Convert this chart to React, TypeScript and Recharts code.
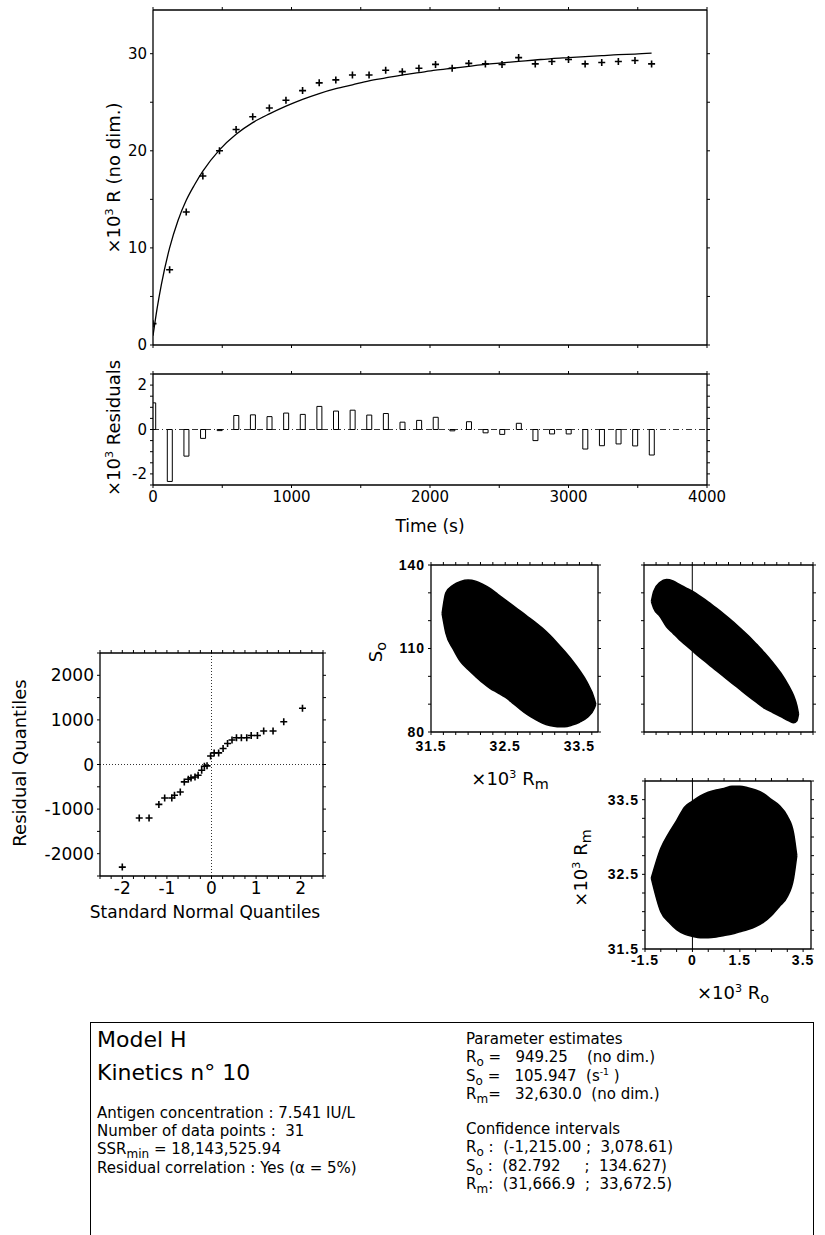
import React from "react";
import {
  Area,
  Bar,
  ComposedChart,
  Line,
  ReferenceLine,
  Scatter,
  XAxis,
  YAxis,
} from "recharts";

const FONT = "'DejaVu Sans', sans-serif";
const BOLD_FONT = "'Liberation Sans', Arial, sans-serif";
const INK = "#000";
const PAD = 8;

// kinetics: time (s), R in 10^3 units
const times = [
  0, 120, 240, 360, 480, 600, 720, 840, 960, 1080, 1200, 1320, 1440, 1560,
  1680, 1800, 1920, 2040, 2160, 2280, 2400, 2520, 2640, 2760, 2880, 3000,
  3120, 3240, 3360, 3480, 3600,
];
const observedR = [
  2.2, 7.75, 13.7, 17.4, 20.0, 22.2, 23.5, 24.4, 25.2, 26.2, 27.0, 27.3, 27.8,
  27.8, 28.3, 28.15, 28.5, 28.9, 28.5, 29.0, 28.95, 28.9, 29.6, 28.95, 29.2,
  29.4, 28.95, 29.1, 29.2, 29.3, 28.95,
];
const residuals = [
  1.2, -2.34, -1.2, -0.4, -0.05, 0.63, 0.66, 0.58, 0.74, 0.68, 1.04, 0.83,
  0.87, 0.65, 0.72, 0.33, 0.41, 0.55, -0.06, 0.35, -0.15, -0.22, 0.28, -0.5,
  -0.2, -0.2, -0.88, -0.73, -0.65, -0.74, -1.15,
];
const fitTimes = [
  0, 30, 60, 120, 180, 240, 300, 360, 480, 600, 720, 840, 960, 1080, 1200,
  1320, 1440, 1560, 1680, 1800, 1920, 2040, 2160, 2280, 2400, 2520, 2640, 2760,
  2880, 3000, 3120, 3240, 3360, 3480, 3600,
];
const fitR = [
  0.95, 3.8, 6.2, 10.0, 12.8, 14.9, 16.5, 17.9, 20.1, 21.7, 22.9, 23.8, 24.6,
  25.3, 25.9, 26.4, 26.8, 27.2, 27.5, 27.8, 28.05, 28.3, 28.5, 28.7, 28.9,
  29.05, 29.2, 29.35, 29.5, 29.6, 29.7, 29.8, 29.9, 29.95, 30.05,
];

// normal probability plot
const qqNormal = [
  -2.0, -1.62, -1.4, -1.18, -1.05, -0.89, -0.83, -0.7, -0.61, -0.52, -0.46,
  -0.37, -0.3, -0.22, -0.16, -0.1, -0.02, 0.06, 0.16, 0.26, 0.36, 0.46, 0.56,
  0.67, 0.79, 0.89, 1.03, 1.17, 1.38, 1.62, 2.04,
];
const qqResidual = [
  -2300, -1200, -1200, -895, -750, -750, -690, -615, -390, -330, -300, -280,
  -240, -130, -40, -30, 190, 260, 260, 360, 470, 550, 600, 600, 600, 650, 650,
  750, 750, 960, 1260,
];

// confidence clouds (outline: x with lower / upper edge)
const soRmX = [
  31.65, 31.7, 31.8, 31.9, 32.0, 32.1, 32.2, 32.3, 32.4, 32.5, 32.6, 32.7,
  32.8, 32.9, 33.0, 33.1, 33.2, 33.3, 33.4, 33.5, 33.6, 33.7, 33.72,
];
const soRmHigh = [
  122.5, 130, 132.8, 134.1, 134.6, 134.2, 133.0, 131.5, 129.5, 127.5, 125.5,
  123.5, 121.5, 119.5, 117.3, 114.8, 112, 109, 105.8, 102.2, 98, 92, 90,
];
const soRmLow = [
  122.5, 115.5, 109.8, 105.2, 102.5, 100, 97.6, 95.6, 94.1, 92.5, 90.4, 88.2,
  86.2, 84.6, 83.2, 82.3, 81.9, 81.9, 82.5, 83.5, 85.1, 88.5, 90,
];

const soRoX = [
  -1.27, -1.2, -1.0, -0.8, -0.6, -0.4, -0.2, 0, 0.25, 0.5, 0.75, 1.0, 1.25,
  1.5, 1.75, 2.0, 2.25, 2.5, 2.75, 3.0, 3.15, 3.25, 3.3,
];
const soRoHigh = [
  126.9, 130.5, 133.8, 134.8, 134.3, 133.0, 131.8, 130.6, 128.7, 126.7, 124.5,
  122.2, 119.8, 117.2, 114.5, 111.5, 108.4, 105, 101.2, 96.5, 93, 89.5, 86.5,
];
const soRoLow = [
  126.9, 124.5, 121.5, 117.8, 115.5, 113.2, 111.2, 109.2, 106.7, 104.4, 102,
  99.7, 97.4, 95.1, 92.8, 90.6, 88.5, 87, 85.5, 84, 83.3, 84, 86.5,
];

const rmRoX = [
  -1.3, -1.0, -0.75, -0.5, -0.25, 0, 0.25, 0.5, 0.75, 1.0, 1.25, 1.5, 1.75,
  2.0, 2.25, 2.5, 2.75, 3.0, 3.2, 3.3,
];
const rmRoHigh = [
  32.45, 32.85, 33.05, 33.22, 33.4, 33.48, 33.55, 33.6, 33.63, 33.65, 33.68,
  33.68, 33.66, 33.63, 33.58, 33.5, 33.42, 33.28, 33.05, 32.75,
];
const rmRoLow = [
  32.45, 32.0, 31.86, 31.76, 31.7, 31.67, 31.65, 31.65, 31.66, 31.68, 31.7,
  31.73, 31.76, 31.8, 31.86, 31.95, 32.07, 32.2, 32.45, 32.75,
];

// axis ticks
const timeTicks = [0, 500, 1000, 1500, 2000, 2500, 3000, 3500, 4000];
const rTicks = [0, 5, 10, 15, 20, 25, 30];
const resTicks = [-2.5, -2, -1.5, -1, -0.5, 0, 0.5, 1, 1.5, 2, 2.5];
const qqXTicks = [
  -2.5, -2.25, -2, -1.75, -1.5, -1.25, -1, -0.75, -0.5, -0.25, 0, 0.25, 0.5,
  0.75, 1, 1.25, 1.5, 1.75, 2, 2.25, 2.5,
];
const qqYTicks = [-2500, -2000, -1500, -1000, -500, 0, 500, 1000, 1500, 2000, 2500];
const soTicks = [80, 90, 100, 110, 120, 130, 140];
const rmTicks = Array.from({ length: 14 }, (_, k) => 31.5 + k / 6);
const rmTicksV = [31.5, 31.75, 32, 32.25, 32.5, 32.75, 33, 33.25, 33.5, 33.75];
const roTicksB = Array.from({ length: 15 }, (_, k) => -1.5 + k * 0.375);
const roTicksC = [-1.5, -1, -0.5, 0, 0.5, 1, 1.5, 2, 2.5, 3, 3.5];

const onlyLabels = (labels: number[]) => (v: number) =>
  labels.some((l) => Math.abs(l - v) < 1e-6) ? String(v) : "";
const fixedLabels = (labels: number[]) => (v: number) =>
  labels.some((l) => Math.abs(l - v) < 1e-6) ? v.toFixed(1) : "";
const blank = () => "";

type Box = { l: number; t: number; r: number; b: number };

// axes of size 0 are not drawn, so every axis gets at least 1px;
// mirrored top/right axes are 1px and the margins compensate
function place(box: Box, lw: number, bh: number, extraRight = 0) {
  const width = box.r - box.l + lw + 2 * PAD + extraRight;
  const height = box.b - box.t + bh + 2 * PAD;
  return {
    width,
    height,
    margin: {
      top: PAD - 1,
      right: PAD - 1 + extraRight,
      bottom: PAD,
      left: PAD,
    },
    style: {
      position: "absolute" as const,
      left: box.l - lw - PAD,
      top: box.t - PAD,
      width,
      height,
    },
  };
}

const plainTick = { fill: INK, fontSize: 15, fontFamily: FONT };
const boldTick = {
  fill: INK,
  fontSize: 14,
  fontFamily: BOLD_FONT,
  fontWeight: 700,
  letterSpacing: 1,
};

function frameAxes(o: {
  xDomain: [number, number];
  yDomain: [number, number];
  xTicks: number[];
  yTicks: number[];
  xFmt: (v: number) => string;
  yFmt: (v: number) => string;
  lw: number;
  bh: number;
  tick: any;
  xMargin?: number;
}) {
  const line = { stroke: INK, strokeWidth: 1.3 };
  const tl = { stroke: INK, strokeWidth: 1 };
  // invisible series so the mirrored top / right axes get a scale
  const corners = [
    { x: o.xDomain[0], y: o.yDomain[0] },
    { x: o.xDomain[1], y: o.yDomain[1] },
  ];
  return [
    <XAxis
      key="xb"
      xAxisId="b"
      type="number"
      dataKey="x"
      domain={o.xDomain}
      ticks={o.xTicks}
      interval={0}
      allowDataOverflow
      height={o.bh}
      axisLine={line}
      tickLine={tl}
      tickSize={3}
      tickMargin={o.xMargin ?? 3}
      tickFormatter={o.xFmt}
      tick={o.tick}
    />,
    <XAxis
      key="xt"
      xAxisId="t"
      orientation="top"
      type="number"
      dataKey="x"
      domain={o.xDomain}
      ticks={o.xTicks}
      interval={0}
      allowDataOverflow
      height={1}
      axisLine={line}
      tickLine={tl}
      tickSize={3}
      tickFormatter={blank}
    />,
    <YAxis
      key="yl"
      yAxisId="l"
      type="number"
      dataKey="y"
      domain={o.yDomain}
      ticks={o.yTicks}
      interval={0}
      allowDataOverflow
      width={o.lw}
      axisLine={line}
      tickLine={tl}
      tickSize={3}
      tickMargin={3}
      tickFormatter={o.yFmt}
      tick={o.tick}
    />,
    <YAxis
      key="yr"
      yAxisId="r"
      orientation="right"
      type="number"
      dataKey="y"
      domain={o.yDomain}
      ticks={o.yTicks}
      interval={0}
      allowDataOverflow
      width={1}
      axisLine={line}
      tickLine={tl}
      tickSize={3}
      tickFormatter={blank}
    />,
    <Line
      key="mirror"
      data={corners}
      dataKey="y"
      xAxisId="t"
      yAxisId="r"
      stroke="none"
      dot={false}
      activeDot={false}
      isAnimationActive={false}
    />,
  ];
}

const Plus = (props: any) => {
  const { cx, cy } = props;
  if (cx == null || cy == null) return <g />;
  return (
    <path
      d={`M${cx - 3.5},${cy}H${cx + 3.5}M${cx},${cy - 3.5}V${cy + 3.5}`}
      stroke={INK}
      strokeWidth={1.6}
      fill="none"
    />
  );
};

const Sup = ({ children }: { children: React.ReactNode }) => (
  <span style={{ fontSize: "0.62em", position: "relative", top: "-0.6em" }}>
    {children}
  </span>
);
const Sub = ({ children }: { children: React.ReactNode }) => (
  <span style={{ fontSize: "0.8em", position: "relative", top: "0.3em" }}>
    {children}
  </span>
);

function Label({
  x,
  y,
  size,
  rotate,
  children,
}: {
  x: number;
  y: number;
  size: number;
  rotate?: boolean;
  children: React.ReactNode;
}) {
  return (
    <div
      style={{
        position: "absolute",
        left: x,
        top: y,
        transform: `translate(-50%, -50%)${rotate ? " rotate(-90deg)" : ""}`,
        whiteSpace: "nowrap",
        fontSize: size,
        fontFamily: FONT,
        lineHeight: 1,
        color: INK,
      }}
    >
      {children}
    </div>
  );
}

function Text({
  x,
  y,
  size,
  children,
}: {
  x: number;
  y: number;
  size: number;
  children: React.ReactNode;
}) {
  return (
    <div
      style={{
        position: "absolute",
        left: x,
        top: y,
        whiteSpace: "pre",
        fontSize: size,
        fontFamily: FONT,
        lineHeight: 1,
        color: INK,
      }}
    >
      {children}
    </div>
  );
}

export default function App() {
  const obsData = times.map((t, i) => ({ x: t, y: observedR[i] }));
  const fitData = fitTimes.map((t, i) => ({ x: t, y: fitR[i] }));
  const resData = times.map((t, i) => ({ x: t, y: residuals[i] }));
  const qqData = qqNormal.map((q, i) => ({ x: q, y: qqResidual[i] }));
  const cloudA = soRmX.map((x, i) => ({ x, band: [soRmLow[i], soRmHigh[i]] }));
  const cloudB = soRoX.map((x, i) => ({ x, band: [soRoLow[i], soRoHigh[i]] }));
  const cloudC = rmRoX.map((x, i) => ({ x, band: [rmRoLow[i], rmRoHigh[i]] }));

  const main = place({ l: 153, t: 10, r: 707, b: 345 }, 50, 1);
  const res = place({ l: 153, t: 374, r: 707, b: 485 }, 50, 26, 30);
  const qq = place({ l: 100, t: 653, r: 323, b: 876 }, 70, 26);
  const pa = place({ l: 431, t: 565, r: 598, b: 732 }, 40, 26);
  const pb = place({ l: 644, t: 565, r: 813, b: 732 }, 1, 1);
  const pc = place({ l: 645, t: 781, r: 811, b: 949 }, 45, 26);

  const cloudStyle = {
    type: "monotone" as const,
    dataKey: "band",
    xAxisId: "b",
    yAxisId: "l",
    stroke: INK,
    strokeWidth: 1.5,
    fill: INK,
    fillOpacity: 1,
    dot: false,
    activeDot: false,
    isAnimationActive: false,
  };

  return (
    <div
      style={{
        position: "absolute",
        left: 0,
        top: 0,
        width: 825,
        height: 1235,
        background: "#fff",
        overflow: "hidden",
      }}
    >
      {/* kinetic curve */}
      <div style={main.style}>
        <ComposedChart width={main.width} height={main.height} margin={main.margin}>
          {frameAxes({
            xDomain: [0, 4000],
            yDomain: [0, 34.5],
            xTicks: timeTicks,
            yTicks: rTicks,
            xFmt: blank,
            yFmt: onlyLabels([0, 10, 20, 30]),
            lw: 50,
            bh: 1,
            tick: plainTick,
          })}
          <Line
            data={fitData}
            dataKey="y"
            xAxisId="b"
            yAxisId="l"
            type="monotone"
            dot={false}
            activeDot={false}
            stroke={INK}
            strokeWidth={1.3}
            isAnimationActive={false}
          />
          <Scatter
            data={obsData}
            dataKey="y"
            xAxisId="b"
            yAxisId="l"
            shape={Plus}
            isAnimationActive={false}
          />
        </ComposedChart>
      </div>

      {/* residuals */}
      <div style={res.style}>
        <ComposedChart
          width={res.width}
          height={res.height}
          data={resData}
          margin={res.margin}
        >
          {frameAxes({
            xDomain: [0, 4000],
            yDomain: [-2.5, 2.5],
            xTicks: timeTicks,
            yTicks: resTicks,
            xFmt: onlyLabels([0, 1000, 2000, 3000, 4000]),
            yFmt: onlyLabels([-2, 0, 2]),
            lw: 50,
            bh: 26,
            tick: plainTick,
          })}
          <ReferenceLine
            y={0}
            xAxisId="b"
            yAxisId="l"
            stroke={INK}
            strokeWidth={0.8}
            strokeDasharray="6 3 1 3"
          />
          <Bar
            dataKey="y"
            xAxisId="b"
            yAxisId="l"
            barSize={5}
            fill="#fff"
            stroke={INK}
            strokeWidth={1}
            isAnimationActive={false}
          />
        </ComposedChart>
      </div>

      {/* normal probability plot */}
      <div style={qq.style}>
        <ComposedChart width={qq.width} height={qq.height} margin={qq.margin}>
          {frameAxes({
            xDomain: [-2.5, 2.5],
            yDomain: [-2500, 2500],
            xTicks: qqXTicks,
            yTicks: qqYTicks,
            xFmt: onlyLabels([-2, -1, 0, 1, 2]),
            yFmt: onlyLabels([-2000, -1000, 0, 1000, 2000]),
            lw: 70,
            bh: 26,
            tick: { ...plainTick, fontSize: 17 },
          })}
          <ReferenceLine
            x={0}
            xAxisId="b"
            yAxisId="l"
            stroke={INK}
            strokeWidth={0.8}
            strokeDasharray="1 2"
          />
          <ReferenceLine
            y={0}
            xAxisId="b"
            yAxisId="l"
            stroke={INK}
            strokeWidth={0.8}
            strokeDasharray="1 2"
          />
          <Scatter
            data={qqData}
            dataKey="y"
            xAxisId="b"
            yAxisId="l"
            shape={Plus}
            isAnimationActive={false}
          />
        </ComposedChart>
      </div>

      {/* So vs Rm */}
      <div style={pa.style}>
        <ComposedChart
          width={pa.width}
          height={pa.height}
          data={cloudA}
          margin={pa.margin}
        >
          {frameAxes({
            xDomain: [31.5, 33.75],
            yDomain: [80, 140],
            xTicks: rmTicks,
            yTicks: soTicks,
            xFmt: fixedLabels([31.5, 32.5, 33.5]),
            yFmt: onlyLabels([80, 110, 140]),
            lw: 40,
            bh: 26,
            tick: boldTick,
            xMargin: 6,
          })}
          <Area {...cloudStyle} />
        </ComposedChart>
      </div>

      {/* So vs Ro */}
      <div style={pb.style}>
        <ComposedChart
          width={pb.width}
          height={pb.height}
          data={cloudB}
          margin={pb.margin}
        >
          {frameAxes({
            xDomain: [-1.5, 3.75],
            yDomain: [80, 140],
            xTicks: roTicksB,
            yTicks: soTicks,
            xFmt: blank,
            yFmt: blank,
            lw: 1,
            bh: 1,
            tick: boldTick,
          })}
          <ReferenceLine x={0} xAxisId="b" yAxisId="l" stroke={INK} strokeWidth={1} />
          <Area {...cloudStyle} />
        </ComposedChart>
      </div>

      {/* Rm vs Ro */}
      <div style={pc.style}>
        <ComposedChart
          width={pc.width}
          height={pc.height}
          data={cloudC}
          margin={pc.margin}
        >
          {frameAxes({
            xDomain: [-1.5, 3.75],
            yDomain: [31.5, 33.75],
            xTicks: roTicksC,
            yTicks: rmTicksV,
            xFmt: onlyLabels([-1.5, 0, 1.5, 3.5]),
            yFmt: fixedLabels([31.5, 32.5, 33.5]),
            lw: 45,
            bh: 26,
            tick: boldTick,
          })}
          <ReferenceLine x={0} xAxisId="b" yAxisId="l" stroke={INK} strokeWidth={1} />
          <Area {...cloudStyle} />
        </ComposedChart>
      </div>

      {/* axis titles */}
      <Label x={114} y={178} size={18} rotate>
        ×10<Sup>3</Sup> R (no dim.)
      </Label>
      <Label x={114} y={428} size={18} rotate>
        ×10<Sup>3</Sup> Residuals
      </Label>
      <Label x={430} y={526} size={17}>
        Time (s)
      </Label>
      <Label x={20} y={763} size={18} rotate>
        Residual Quantiles
      </Label>
      <Label x={205} y={912} size={17}>
        Standard Normal Quantiles
      </Label>
      <Label x={376} y={652} size={18} rotate>
        S<Sub>o</Sub>
      </Label>
      <Label x={510} y={779} size={18}>
        ×10<Sup>3</Sup> R<Sub>m</Sub>
      </Label>
      <Label x={581} y={868} size={18} rotate>
        ×10<Sup>3</Sup> R<Sub>m</Sub>
      </Label>
      <Label x={733} y={993} size={18}>
        ×10<Sup>3</Sup> R<Sub>o</Sub>
      </Label>

      {/* summary box */}
      <div
        style={{
          position: "absolute",
          left: 90,
          top: 1022,
          width: 722,
          height: 240,
          borderTop: `1.5px solid ${INK}`,
          borderLeft: `1.5px solid ${INK}`,
          borderRight: `1.5px solid ${INK}`,
        }}
      />
      <Text x={97} y={1029} size={22}>
        Model H
      </Text>
      <Text x={97} y={1062} size={22}>
        Kinetics n° 10
      </Text>
      <Text x={97} y={1106} size={15}>
        Antigen concentration : 7.541 IU/L
      </Text>
      <Text x={97} y={1124} size={15}>
        Number of data points :  31
      </Text>
      <Text x={97} y={1142} size={15}>
        SSR<Sub>min</Sub> = 18,143,525.94
      </Text>
      <Text x={97} y={1161} size={15}>
        Residual correlation : Yes (α = 5%)
      </Text>

      <Text x={466} y={1032} size={15}>
        Parameter estimates
      </Text>
      <Text x={466} y={1050} size={15}>
        R<Sub>o</Sub> =   949.25    (no dim.)
      </Text>
      <Text x={466} y={1069} size={15}>
        S<Sub>o</Sub> =   105.947  (s<Sup>-1</Sup> )
      </Text>
      <Text x={466} y={1087} size={15}>
        R<Sub>m</Sub>=   32,630.0  (no dim.)
      </Text>
      <Text x={466} y={1122} size={15}>
        Confidence intervals
      </Text>
      <Text x={466} y={1140} size={15}>
        R<Sub>o</Sub> :  (-1,215.00 ;  3,078.61)
      </Text>
      <Text x={466} y={1159} size={15}>
        S<Sub>o</Sub> :  (82.792     ;  134.627)
      </Text>
      <Text x={466} y={1177} size={15}>
        R<Sub>m</Sub>:  (31,666.9  ;  33,672.5)
      </Text>
    </div>
  );
}
